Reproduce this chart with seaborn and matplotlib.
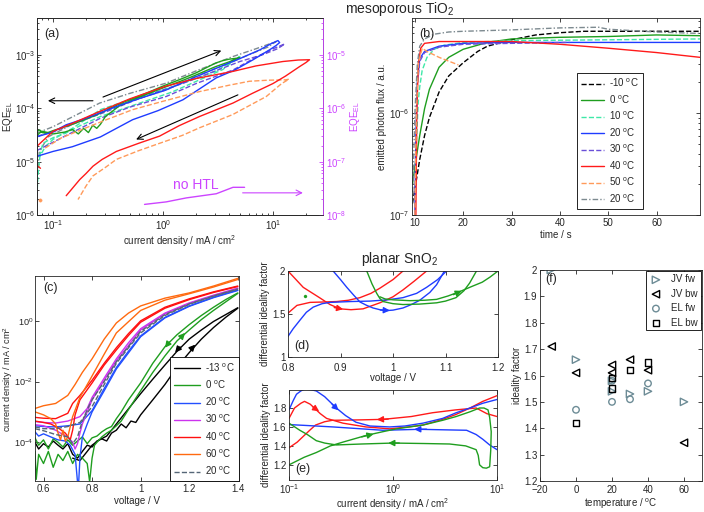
import matplotlib
matplotlib.use('Agg')
import matplotlib.pyplot as plt
import seaborn as sns
from matplotlib.ticker import FuncFormatter, NullLocator

# ---------------- data ----------------
TEMPS_TIO2 = ['-10 $^o$C', '0 $^o$C', '10 $^o$C', '20 $^o$C', '30 $^o$C', '40 $^o$C', '50 $^o$C', '20 $^o$C']
TEMPS_SNO2 = ['-13 $^o$C', '0 $^o$C', '20 $^o$C', '30 $^o$C', '40 $^o$C', '60 $^o$C', '20 $^o$C']

# (a) EQE_EL vs current density, loops (j, EQE)
A_GREEN = [(0.071, 3.2e-5), (0.073, 3.8e-5), (0.076, 3.9e-5), (0.08, 3.5e-5), (0.085, 3.4e-5), (0.09, 3.5e-5),
           (0.1, 3.8e-5), (0.12, 4.3e-5), (0.15, 5e-5), (0.19, 6e-5), (0.25, 7.5e-5), (0.3, 9e-5), (0.4, 1.2e-4),
           (0.5, 1.45e-4), (0.7, 1.9e-4), (1.0, 2.6e-4), (1.5, 3.6e-4), (2.0, 4.6e-4), (2.5, 5.8e-4), (3.0, 7e-4),
           (3.5, 7.8e-4), (4.0, 8.3e-4), (5.0, 8.8e-4), (4.5, 8.2e-4), (4.0, 7.4e-4), (3.0, 6e-4), (2.0, 4.2e-4),
           (1.5, 3.3e-4), (1.0, 2.4e-4), (0.7, 1.8e-4), (0.5, 1.35e-4), (0.4, 1.1e-4), (0.3, 7e-5), (0.27, 5e-5),
           (0.25, 4.2e-5), (0.23, 4.8e-5), (0.21, 3.5e-5), (0.19, 4.2e-5), (0.17, 3.3e-5), (0.15, 4e-5),
           (0.13, 3.6e-5), (0.11, 3.4e-5), (0.1, 3.3e-5), (0.09, 3.5e-5), (0.08, 3.7e-5), (0.075, 3.4e-5), (0.071, 3e-5)]
A_CYAN = [(0.072, 3e-6), (0.073, 5.3e-6), (0.076, 1.25e-5), (0.085, 1.9e-5), (0.1, 2.6e-5), (0.15, 4.2e-5),
          (0.27, 9.4e-5), (0.5, 1.45e-4), (1.07, 2.3e-4), (2.0, 3.6e-4), (3.05, 5e-4), (4.0, 7e-4), (5.0, 9.3e-4),
          (4.5, 8e-4), (3.5, 5.3e-4), (2.15, 3.4e-4), (1.2, 2e-4), (0.76, 1.45e-4), (0.45, 1e-4), (0.27, 7e-5),
          (0.18, 4.8e-5), (0.13, 3.4e-5), (0.1, 2.8e-5), (0.081, 2.2e-5), (0.075, 1.2e-5)]
A_BLUE = [(0.071, 2.9e-5), (0.1, 3.6e-5), (0.132, 4.9e-5), (0.2, 6.5e-5), (0.38, 1.08e-4), (0.6, 1.5e-4),
          (1.07, 2.2e-4), (2.0, 3.9e-4), (3.05, 5.6e-4), (5.0, 8.5e-4), (7.6, 1.24e-3), (9.5, 1.6e-3),
          (11.1, 1.85e-3), (11.5, 1.7e-3), (10.7, 1.5e-3), (9.3, 1.24e-3), (6.6, 8.1e-4), (4.5, 5.2e-4),
          (3.05, 3.7e-4), (1.52, 1.44e-4), (0.9, 9e-5), (0.53, 6.1e-5), (0.27, 2.9e-5), (0.15, 1.9e-5),
          (0.1, 1.55e-5), (0.071, 1.25e-5)]
A_PURPLE = [(0.071, 1.6e-5), (0.12, 2.8e-5), (0.27, 6.5e-5), (0.5, 1.05e-4), (1.07, 1.66e-4), (2.0, 2.9e-4),
            (4.33, 5.2e-4), (7.0, 9e-4), (10.0, 1.3e-3), (12.8, 1.6e-3), (11.0, 1.3e-3), (8.0, 1e-3), (5.0, 7.5e-4),
            (3.0, 5e-4), (1.5, 2.9e-4), (1.0, 2.2e-4), (0.6, 1.5e-4), (0.3, 8.5e-5), (0.15, 5e-5), (0.1, 3.6e-5),
            (0.072, 3e-5)]
A_RED = [(0.0716, 1.94e-5), (0.1, 3.7e-5), (0.15, 5.2e-5), (0.266, 8.7e-5), (0.5, 1.5e-4), (1.07, 2.6e-4),
         (2.0, 3.6e-4), (4.33, 4.9e-4), (7.0, 6.2e-4), (12.3, 7.5e-4), (17.0, 8e-4), (21.5, 8.1e-4), (20.0, 7.2e-4),
         (17.4, 6e-4), (13.0, 4e-4), (10.0, 2.9e-4), (6.5, 1.9e-4), (4.33, 1.25e-4), (2.15, 7e-5), (1.4, 4.7e-5),
         (0.93, 3e-5), (0.6, 2.2e-5), (0.377, 1.55e-5), (0.28, 1.1e-5), (0.231, 8.2e-6), (0.2, 6e-6),
         (0.175, 4.6e-6), (0.132, 2.3e-6)]
A_RED_TAIL = [(0.0716, 8.5e-6), (0.077, 7.5e-6)]
A_ORANGE = [(0.085, 1.8e-5), (0.12, 2.8e-5), (0.2, 4.3e-5), (0.3, 6e-5), (0.53, 9.4e-5), (1.0, 1.35e-4),
            (2.15, 2.05e-4), (4.0, 2.7e-4), (6.1, 3.2e-4), (9.0, 3.35e-4), (13.0, 3.4e-4), (14.0, 3.5e-4),
            (12.0, 2.9e-4), (8.7, 1.66e-4), (6.0, 1.1e-4), (4.3, 7.6e-5), (2.15, 4.3e-5), (1.5, 3.1e-5),
            (0.93, 2.2e-5), (0.6, 1.6e-5), (0.377, 1.1e-5), (0.3, 7.8e-6), (0.231, 5.4e-6), (0.2, 3.5e-6),
            (0.169, 1.95e-6)]
A_ORANGE_DOT = [(0.076, 1.9e-6)]
A_GRAY = [(0.071, 3.4e-5), (0.1, 4.5e-5), (0.266, 1.25e-4), (0.5, 1.9e-4), (1.07, 2.95e-4), (2.0, 5e-4),
          (4.33, 9.3e-4), (7.0, 1.3e-3), (10.7, 1.78e-3), (9.0, 1.4e-3), (6.0, 1e-3), (4.33, 7.5e-4), (2.0, 4e-4),
          (1.07, 2.2e-4), (0.5, 1.35e-4), (0.266, 8.7e-5), (0.15, 5e-5), (0.09, 2.9e-5), (0.075, 1.5e-5),
          (0.072, 6e-6)]
A_NOHTL = [(0.68, 1.58e-8), (1.07, 1.76e-8), (1.63, 2.09e-8), (3.05, 2.5e-8), (4.33, 3.3e-8), (5.52, 3.3e-8)]
A_ARROWS = [((0.231, 1.38e-4), (0.09, 1.38e-4)), ((0.285, 1.62e-4), (3.39, 1.2e-3)), ((4.8, 1.78e-4), (0.57, 2.6e-5))]
A_HTL_ARROW = ((5.3, 2.6e-8), (18.7, 2.6e-8))

# (b) emitted photon flux vs time
B_TIME = {
    'k': [9.5, 10, 11, 12, 13, 15, 17, 20, 23, 25, 30, 35, 40, 45, 50, 60, 69],
    'g': [9.5, 10, 11, 12, 13, 15, 17, 20, 25, 30, 40, 50, 60, 69],
    'c': [10, 10.3, 10.7, 11, 11.5, 12.5, 14, 16, 20, 30, 50, 69],
    'b': [10, 10.2, 10.5, 11, 12, 15, 20, 30, 50, 69],
    'p': [10, 10.2, 10.5, 11, 12, 15, 20, 30, 42],
    'r': [10.2, 10.4, 10.7, 11.2, 12, 15, 20, 30, 40, 50, 60, 69],
    'o': [10, 10.3, 10.7, 11.5, 12.5, 15, 19],
    'gr': [9.5, 10, 10.5, 11, 12, 14, 17, 20, 30, 40, 48, 50, 60, 69],
}
B_FLUX = {
    'k': [1.3e-7, 1.8e-7, 3.5e-7, 6e-7, 9e-7, 1.6e-6, 2.3e-6, 3.1e-6, 4e-6, 4.5e-6, 5.2e-6, 5.8e-6, 6.1e-6,
          6.3e-6, 6.3e-6, 6.3e-6, 6.3e-6],
    'g': [2e-7, 3e-7, 6e-7, 1.1e-6, 1.7e-6, 2.8e-6, 3.5e-6, 4.2e-6, 4.9e-6, 5.3e-6, 5.5e-6, 5.6e-6, 5.8e-6, 5.7e-6],
    'c': [1e-7, 5e-7, 1.3e-6, 1.8e-6, 2.6e-6, 3.5e-6, 4.2e-6, 4.6e-6, 4.9e-6, 5.1e-6, 5.2e-6, 5.3e-6],
    'b': [1e-7, 6e-7, 2e-6, 3.4e-6, 4e-6, 4.5e-6, 4.8e-6, 4.9e-6, 4.9e-6, 4.9e-6],
    'p': [1e-7, 5e-7, 1.8e-6, 3.2e-6, 3.9e-6, 4.4e-6, 4.7e-6, 4.8e-6, 4.9e-6],
    'r': [1e-7, 1e-6, 3e-6, 4.3e-6, 4.8e-6, 5e-6, 5e-6, 5e-6, 4.7e-6, 4.3e-6, 3.9e-6, 3.5e-6],
    'o': [1e-7, 1e-6, 3e-6, 4.3e-6, 4e-6, 3.5e-6, 2.95e-6],
    'gr': [1.3e-7, 1e-6, 3e-6, 4.5e-6, 5.3e-6, 5.9e-6, 6.2e-6, 6.3e-6, 6.5e-6, 6.8e-6, 6.9e-6, 6.6e-6, 6.2e-6, 6.0e-6],
}

# (c) JV curves, two sweeps per temperature (V, J)
C_BLACK_1 = [(0.72, 3e-5), (0.75, 2.5e-5), (0.78, 5e-5), (0.8, 8e-5), (0.83, 1.2e-4), (0.86, 1.6e-4), (0.88, 2.5e-4),
             (0.9, 4e-4), (0.93, 8e-4), (0.96, 1.6e-3), (1.0, 4e-3), (1.05, 1.2e-2), (1.1, 3.5e-2), (1.15, 0.1),
             (1.2, 0.25), (1.25, 0.5), (1.3, 0.95), (1.35, 1.6), (1.4, 2.7)]
C_BLACK_2 = [(0.565, 1e-4), (0.58, 6e-5), (0.6, 9e-5), (0.62, 7e-5), (0.64, 1.1e-4), (0.66, 8e-5), (0.68, 6e-5),
             (0.7, 9e-5), (0.72, 4e-5), (0.74, 3e-5), (0.76, 5e-5), (0.78, 8e-5), (0.8, 7e-5), (0.82, 1.1e-4),
             (0.84, 1.3e-4), (0.86, 1.1e-4), (0.88, 2e-4), (0.9, 2.5e-4), (0.92, 4e-4), (0.94, 3e-4), (0.96, 5e-4),
             (0.98, 4.5e-4), (1.0, 8e-4), (1.05, 2.5e-3), (1.1, 8e-3), (1.15, 3e-2), (1.2, 9e-2), (1.25, 0.25),
             (1.3, 0.6), (1.35, 1.3), (1.4, 2.6)]
C_GREEN_1 = [(0.565, 1.4e-4), (0.58, 8e-5), (0.6, 1.2e-4), (0.62, 6e-5), (0.64, 1.3e-4), (0.66, 1e-4), (0.68, 7e-5),
             (0.7, 1.2e-4), (0.72, 8e-5), (0.74, 1.1e-4), (0.76, 1.5e-4), (0.78, 9e-5), (0.8, 1.4e-4),
             (0.82, 1.6e-4), (0.84, 2.2e-4), (0.86, 2.8e-4), (0.88, 3.3e-4), (0.9, 6e-4), (0.92, 1e-3),
             (0.95, 2.5e-3), (1.0, 9e-3), (1.05, 4e-2), (1.1, 0.14), (1.15, 0.35), (1.2, 0.75), (1.25, 1.5),
             (1.3, 2.8), (1.35, 5.0), (1.4, 8.3)]
C_GREEN_2 = [(0.565, 5e-5), (0.57, 6e-6), (0.58, 4e-5), (0.6, 2e-5), (0.62, 5e-5), (0.64, 1.5e-5), (0.66, 4e-5),
             (0.68, 2.5e-5), (0.7, 5e-5), (0.72, 2e-5), (0.74, 4e-5), (0.76, 3e-5), (0.78, 2e-5), (0.79, 5e-6),
             (0.8, 3e-5), (0.81, 8e-5), (0.82, 1e-4), (0.84, 1.5e-4), (0.86, 2e-4), (0.88, 2.5e-4), (0.9, 3.5e-4),
             (0.92, 5e-4), (0.95, 1.2e-3), (1.0, 5e-3), (1.05, 2e-2), (1.1, 7e-2), (1.15, 0.22), (1.2, 0.5),
             (1.25, 1.1), (1.3, 2.2), (1.35, 4.2), (1.4, 8.0)]
C_BLUE_1 = [(0.565, 3.5e-4), (0.6, 3.3e-4), (0.65, 3.2e-4), (0.7, 3.5e-4), (0.75, 4e-4), (0.8, 1.1e-3),
            (0.85, 5.9e-3), (0.9, 2.9e-2), (0.95, 0.1), (1.0, 0.32), (1.1, 1.3), (1.2, 3.1), (1.3, 6.0), (1.4, 10.4)]
C_BLUE_2 = [(0.565, 2.2e-4), (0.58, 1.6e-4), (0.6, 1.9e-4), (0.63, 1.5e-4), (0.66, 1.2e-4), (0.69, 1.1e-4),
            (0.71, 8e-5), (0.73, 4e-5), (0.74, 5e-6), (0.745, 5e-6), (0.75, 3e-5), (0.76, 1.5e-4), (0.78, 4e-4),
            (0.8, 1e-3), (0.85, 5e-3), (0.9, 2.6e-2), (1.0, 0.3), (1.1, 1.25), (1.2, 3.0), (1.3, 5.8), (1.4, 10.0)]
C_MAG_1 = [(0.565, 4.8e-4), (0.6, 4.5e-4), (0.65, 4.3e-4), (0.7, 5e-4), (0.75, 7e-4), (0.78, 1.3e-3), (0.8, 3e-3),
           (0.85, 1.3e-2), (0.9, 5.6e-2), (0.95, 0.19), (1.0, 0.55), (1.1, 1.8), (1.2, 3.9), (1.3, 7.0), (1.4, 12.0)]
C_MAG_2 = [(0.565, 3.8e-4), (0.6, 3.5e-4), (0.65, 2.5e-4), (0.68, 1.8e-4), (0.7, 1.5e-4), (0.72, 1e-4),
           (0.73, 6e-5), (0.74, 9e-5), (0.75, 2e-4), (0.76, 4e-4), (0.78, 1e-3), (0.8, 2.5e-3), (0.85, 1.1e-2),
           (0.9, 4.8e-2), (1.0, 0.5), (1.1, 1.7), (1.2, 3.7), (1.3, 6.8), (1.4, 11.5)]
C_RED_1 = [(0.565, 6.6e-4), (0.6, 6.2e-4), (0.65, 6e-4), (0.7, 9e-4), (0.72, 1.9e-3), (0.75, 3.5e-3), (0.8, 1.1e-2),
           (0.85, 4e-2), (0.9, 0.13), (0.95, 0.38), (1.0, 1.0), (1.1, 2.8), (1.2, 5.3), (1.3, 9.0), (1.4, 14.0)]
C_RED_2 = [(0.565, 5e-4), (0.6, 4.5e-4), (0.63, 4e-4), (0.66, 3e-4), (0.69, 2e-4), (0.71, 1.2e-4), (0.72, 2.5e-4),
           (0.73, 8e-4), (0.75, 2.5e-3), (0.8, 9e-3), (0.85, 3.5e-2), (0.9, 0.11), (0.95, 0.33), (1.0, 0.9),
           (1.1, 2.6), (1.2, 5.0), (1.3, 8.6), (1.4, 13.5)]
C_ORANGE_1 = [(0.565, 1.3e-3), (0.6, 1.6e-3), (0.65, 1.9e-3), (0.7, 3.5e-3), (0.73, 8e-3), (0.76, 2e-2),
              (0.8, 5.6e-2), (0.85, 0.25), (0.9, 0.85), (0.95, 1.8), (1.0, 3.1), (1.1, 5.6), (1.2, 8.3),
              (1.3, 14.0), (1.4, 25.0)]
C_ORANGE_2 = [(0.565, 1e-3), (0.6, 8e-4), (0.63, 6e-4), (0.65, 4e-4), (0.66, 2e-4), (0.67, 1.2e-4), (0.68, 2.5e-4),
              (0.69, 1.1e-4), (0.7, 1.5e-4), (0.72, 7e-4), (0.75, 3e-3), (0.79, 1.1e-2), (0.85, 8e-2), (0.9, 0.4),
              (1.0, 2.2), (1.1, 4.8), (1.2, 7.8), (1.3, 13.0), (1.4, 23.0)]
C_GRAY_1 = [(0.565, 3.2e-4), (0.6, 2.8e-4), (0.65, 2.8e-4), (0.7, 3.3e-4), (0.75, 4.5e-4), (0.8, 1.5e-3),
            (0.85, 8e-3), (0.9, 4e-2), (0.95, 0.13), (1.0, 0.4), (1.1, 1.5), (1.2, 3.5), (1.3, 6.5), (1.4, 11.0)]
C_GRAY_2 = [(0.565, 2.8e-4), (0.6, 2.4e-4), (0.65, 1.8e-4), (0.7, 1.5e-4), (0.72, 9e-5), (0.74, 1.5e-4),
            (0.76, 5e-4), (0.78, 1.2e-3), (0.8, 2.5e-3), (0.85, 1e-2), (0.9, 4.5e-2), (1.0, 0.45), (1.1, 1.6),
            (1.2, 3.6), (1.3, 6.6), (1.4, 11.2)]
C_ARROWS = [((1.118, 0.2), (1.1, 0.13), 'g'), ((1.165, 0.28), (1.183, 0.4), 'g'),
            ((1.162, 0.14), (1.142, 0.09), 'k'), ((1.205, 0.11), (1.225, 0.165), 'k')]

# (d) differential ideality factor vs voltage
D_RED_1 = [(0.8, 2.0), (0.829, 1.81), (0.86, 1.69), (0.88, 1.61), (0.899, 1.56), (0.92, 1.55), (0.943, 1.56),
           (0.975, 1.63), (1.0, 1.7), (1.019, 1.78), (1.04, 1.88), (1.064, 2.0)]
D_RED_2 = [(0.8, 1.51), (0.817, 1.6), (0.842, 1.635), (0.87, 1.64), (0.893, 1.645), (0.915, 1.66), (0.937, 1.69),
           (0.958, 1.74), (0.975, 1.8), (1.0, 1.9), (1.019, 2.0)]
D_BLUE_1 = [(0.886, 2.0), (0.9, 1.9), (0.912, 1.81), (0.925, 1.72), (0.937, 1.64), (0.95, 1.6), (0.962, 1.57),
            (0.975, 1.55), (0.988, 1.54), (1.0, 1.545), (1.019, 1.57), (1.035, 1.61), (1.051, 1.66), (1.07, 1.75),
            (1.083, 1.84), (1.098, 2.0)]
D_BLUE_2 = [(0.8, 1.24), (0.81, 1.33), (0.823, 1.43), (0.835, 1.52), (0.848, 1.58), (0.865, 1.62), (0.88, 1.635),
            (0.92, 1.645), (0.956, 1.65), (0.99, 1.665), (1.019, 1.69), (1.045, 1.74), (1.064, 1.81), (1.085, 1.9),
            (1.102, 2.0)]
D_GREEN_1 = [(0.95, 2.0), (0.96, 1.85), (0.969, 1.74), (0.975, 1.68), (0.981, 1.645), (1.0, 1.62), (1.019, 1.61),
             (1.05, 1.615), (1.083, 1.63), (1.1, 1.65), (1.12, 1.69), (1.135, 1.77), (1.146, 1.86), (1.159, 2.0)]
D_GREEN_2 = [(0.975, 1.7), (0.985, 1.675), (1.0, 1.665), (1.032, 1.655), (1.06, 1.66), (1.083, 1.67), (1.105, 1.71),
             (1.127, 1.76), (1.15, 1.82), (1.17, 1.87), (1.185, 1.93), (1.2, 2.0)]
D_GREEN_DOT = [(0.832, 1.71)]
D_ARROWS = [((0.888, 1.575), (0.905, 1.556), 'r'), ((0.976, 1.546), (0.994, 1.541), 'b'),
            ((1.115, 1.725), (1.131, 1.77), 'g')]

# (e) differential ideality factor vs current density
E_BLUE_1 = [(0.1, 1.78), (0.11, 1.88), (0.118, 1.945), (0.13, 1.98), (0.141, 2.0), (0.16, 1.995), (0.183, 1.98),
            (0.22, 1.92), (0.285, 1.8), (0.35, 1.72), (0.44, 1.65), (0.6, 1.61), (0.93, 1.6), (1.3, 1.61),
            (1.94, 1.64), (3.0, 1.69), (4.05, 1.75), (5.5, 1.8), (7.3, 1.85), (10.0, 1.89)]
E_BLUE_2 = [(0.1, 1.625), (0.15, 1.615), (0.265, 1.6), (0.5, 1.58), (0.8, 1.565), (1.8, 1.575), (3.0, 1.57),
            (5.1, 1.565), (6.3, 1.52), (7.3, 1.47), (8.5, 1.41), (10.0, 1.36)]
E_RED_1 = [(0.1, 1.69), (0.113, 1.8), (0.13, 1.85), (0.141, 1.87), (0.16, 1.84), (0.183, 1.78), (0.2, 1.74),
           (0.23, 1.69), (0.33, 1.64), (0.55, 1.6), (0.93, 1.58), (1.4, 1.6), (1.94, 1.62), (3.0, 1.68),
           (4.0, 1.73), (5.5, 1.8), (7.3, 1.87), (10.0, 1.93)]
E_RED_2 = [(0.1, 1.38), (0.12, 1.44), (0.14, 1.51), (0.16, 1.57), (0.18, 1.62), (0.22, 1.655), (0.26, 1.67),
           (0.5, 1.675), (0.8, 1.68), (1.5, 1.71), (2.4, 1.75), (4.0, 1.78), (6.3, 1.8), (8.0, 1.74), (10.0, 1.71)]
E_GREEN = [(0.1, 1.64), (0.127, 1.565), (0.15, 1.52), (0.183, 1.455), (0.22, 1.43), (0.285, 1.41), (0.5, 1.42),
           (1.0, 1.43), (2.0, 1.425), (3.5, 1.42), (5.0, 1.4), (6.3, 1.36), (6.6, 1.3), (6.8, 1.2), (7.3, 1.17),
           (7.9, 1.165), (8.5, 1.18), (8.7, 1.35), (8.8, 1.55), (8.5, 1.7), (8.2, 1.78), (7.5, 1.8), (6.8, 1.8),
           (5.5, 1.76), (4.05, 1.71), (3.0, 1.67), (1.94, 1.62), (1.08, 1.58), (0.8, 1.55), (0.55, 1.51),
           (0.33, 1.44), (0.25, 1.4), (0.183, 1.33), (0.14, 1.28), (0.1, 1.2)]
E_ARROWS = [((0.26, 1.84), (0.3, 1.775), 'b'), ((0.17, 1.81), (0.195, 1.765), 'r'),
            ((0.9, 1.683), (0.7, 1.678), 'r'), ((2.1, 1.576), (1.6, 1.575), 'b'),
            ((1.15, 1.43), (0.9, 1.43), 'g'), ((0.5, 1.495), (0.65, 1.525), 'g')]

# (f) ideality factor vs temperature
F_T_JVFW = [-14, 0, 20, 20, 30, 40, 60]
F_JVFW = [2.0, 1.66, 1.58, 1.54, 1.53, 1.54, 1.50]
F_T_JVBW = [-13.5, 0, 20, 20, 30, 40, 60]
F_JVBW = [1.71, 1.61, 1.64, 1.61, 1.66, 1.62, 1.345]
F_T_ELFW = [0, 20, 20, 30, 40]
F_ELFW = [1.47, 1.50, 1.58, 1.51, 1.57]
F_T_ELBW = [0, 20, 20, 30, 40]
F_ELBW = [1.42, 1.55, 1.59, 1.62, 1.65]

# ---------------- style ----------------
sns.set_style('ticks')
plt.rcParams['font.family'] = ['Liberation Sans', 'DejaVu Sans']
plt.rcParams['mathtext.fontset'] = 'custom'
plt.rcParams['mathtext.rm'] = 'Liberation Sans'
plt.rcParams['mathtext.it'] = 'Liberation Sans:italic'
plt.rcParams['mathtext.default'] = 'regular'
plt.rcParams['font.size'] = 7
plt.rcParams['axes.linewidth'] = 0.6
plt.rcParams['axes.labelpad'] = 1.5

FS = 7
COL = {'k': 'black', 'g': '#1f9e1f', 'c': '#3ee8a8', 'b': '#1f3cff', 'p': '#6a4fd8', 'r': '#ff1a1a',
       'o': '#ff9a5a', 'gr': '#7d8a90'}
COL_C = {'k': 'black', 'g': '#1f9e1f', 'b': '#2350ff', 'm': '#cc33ee', 'r': '#ff1010', 'o': '#ff6a10',
         'gr': '#556677'}
MAGENTA = '#cc44ff'
FGRAY = '#6d8c96'


def line(ax, pts, color, ls='-', lw=1.0, label=None):
    xs = [p[0] for p in pts]
    ys = [p[1] for p in pts]
    sns.lineplot(x=xs, y=ys, ax=ax, color=color, linestyle=ls, lw=lw, sort=False,
                 estimator=None, errorbar=None, label=label)


def head(ax, p0, p1, color):
    ax.annotate('', xy=p1, xytext=p0,
                arrowprops=dict(arrowstyle='-|>', color=color, lw=1.0, mutation_scale=9,
                                shrinkA=0, shrinkB=0))


def style(ax):
    ax.tick_params(which='both', direction='in', top=True, right=True, labelsize=FS, width=0.6, pad=2)
    ax.tick_params(which='major', length=3)
    ax.tick_params(which='minor', length=1.6)


def rect(l, t, r, b):
    return [l / 704, 1 - b / 512, (r - l) / 704, (b - t) / 512]


def legend(ax, **kw):
    h, l = ax.get_legend_handles_labels()
    lg = ax.legend(h, l, fontsize=FS, frameon=True, fancybox=False, edgecolor='black',
                   framealpha=1, **kw)
    lg.get_frame().set_linewidth(0.6)


gfmt = FuncFormatter(lambda v, p: '%g' % v)

fig = plt.figure(figsize=(7.04, 5.12), dpi=100)

# ---------------- (a) ----------------
axA = fig.add_axes(rect(37, 18, 323, 215))
axA.set_xscale('log')
axA.set_yscale('log')
dashdot = (0, (4, 1.5, 1, 1.5))
line(axA, A_GRAY, COL['gr'], dashdot)
line(axA, A_CYAN, COL['c'], '--')
line(axA, A_PURPLE, COL['p'], '--')
line(axA, A_GREEN, COL['g'])
line(axA, A_BLUE, COL['b'])
line(axA, A_ORANGE, COL['o'], '--')
line(axA, A_RED, COL['r'])
line(axA, A_RED_TAIL, COL['r'])
sns.scatterplot(x=[p[0] for p in A_ORANGE_DOT], y=[p[1] for p in A_ORANGE_DOT], ax=axA,
                color=COL['o'], s=6, edgecolor=COL['o'])
for p0, p1 in A_ARROWS:
    axA.annotate('', xy=p1, xytext=p0,
                 arrowprops=dict(arrowstyle='->', color='black', lw=0.8, mutation_scale=10,
                                 shrinkA=0, shrinkB=0))
axA.set_xlim(0.0716, 28.5)
axA.set_ylim(1e-6, 4.9e-3)
style(axA)
axA.tick_params(which='both', right=False)
axA.tick_params(axis='y', pad=1)
axA.set_xlabel('current density / mA / cm$^2$', fontsize=FS)
axA.set_ylabel('EQE$_{EL}$', fontsize=FS)
axA.yaxis.set_label_coords(-0.078, 0.5)
axA.text(0.025, 0.95, '(a)', transform=axA.transAxes, fontsize=9, va='top')

axA2 = axA.twinx()
axA2.set_yscale('log')
line(axA2, A_NOHTL, MAGENTA)
axA2.annotate('', xy=A_HTL_ARROW[1], xytext=A_HTL_ARROW[0],
              arrowprops=dict(arrowstyle='->', color=MAGENTA, lw=0.8, mutation_scale=10,
                              shrinkA=0, shrinkB=0))
axA2.text(1.23, 3.7e-8, 'no HTL', color=MAGENTA, fontsize=10, va='center')
axA2.set_ylim(1e-8, 4.9e-5)
axA2.set_xlim(0.0716, 28.5)
axA2.tick_params(which='both', direction='in', right=True, left=False, colors=MAGENTA,
                 labelsize=FS, width=0.6, pad=2)
axA2.tick_params(which='major', length=3)
axA2.tick_params(which='minor', length=1.6)
axA2.spines['right'].set_color(MAGENTA)
axA2.set_ylabel('EQE$_{EL}$', color=MAGENTA, fontsize=FS)

# ---------------- (b) ----------------
axB = fig.add_axes(rect(412, 18, 700, 215))
axB.set_yscale('log')
b_styles = [('k', '--'), ('g', '-'), ('c', '--'), ('b', '-'), ('p', '--'), ('r', '-'), ('o', '--'), ('gr', dashdot)]
for (key, ls), lab in zip(b_styles, TEMPS_TIO2):
    pts = list(zip(B_TIME[key], B_FLUX[key]))
    line(axB, pts, COL[key], ls, label=lab)
axB.set_xlim(9.4, 69)
axB.set_ylim(1e-7, 8.5e-6)
axB.set_xticks([10, 20, 30, 40, 50, 60])
axB.xaxis.set_minor_locator(NullLocator())
style(axB)
axB.set_xlabel('time / s', fontsize=FS)
axB.set_ylabel('emitted photon flux / a.u.', fontsize=FS)
axB.text(0.025, 0.95, '(b)', transform=axB.transAxes, fontsize=9, va='top')
legend(axB, loc='upper left', bbox_to_anchor=(0.556, 0.745), handlelength=2.4, labelspacing=0.42,
       borderpad=0.4, handletextpad=0.5)

# ---------------- (c) ----------------
axC = fig.add_axes(rect(35, 276, 239, 481))
axC.set_yscale('log')
c_sets = [('k', '-', C_BLACK_1, C_BLACK_2), ('g', '-', C_GREEN_1, C_GREEN_2), ('b', '-', C_BLUE_1, C_BLUE_2),
          ('m', '-', C_MAG_1, C_MAG_2), ('r', '-', C_RED_1, C_RED_2), ('o', '-', C_ORANGE_1, C_ORANGE_2),
          ('gr', '--', C_GRAY_1, C_GRAY_2)]
for (key, ls, s1, s2), lab in zip(c_sets, TEMPS_SNO2):
    line(axC, s1, COL_C[key], ls, label=lab)
    line(axC, s2, COL_C[key], ls)
for p0, p1, key in C_ARROWS:
    head(axC, p0, p1, COL_C[key])
axC.set_xlim(0.565, 1.405)
axC.set_ylim(5.3e-6, 30)
axC.set_yticks([1e-4, 1e-2, 1e0])
axC.yaxis.set_minor_locator(NullLocator())
axC.set_xticks([0.6, 0.8, 1.0, 1.2, 1.4])
axC.xaxis.set_major_formatter(gfmt)
style(axC)
axC.tick_params(axis='y', pad=1, labelsize=6.6)
axC.set_xlabel('voltage / V', fontsize=FS)
axC.set_ylabel('current density / mA / cm$^2$', fontsize=6.6)
axC.yaxis.set_label_coords(-0.097, 0.5)
axC.text(0.04, 0.97, '(c)', transform=axC.transAxes, fontsize=9, va='top')
legend(axC, loc='lower right', borderaxespad=0, handlelength=2.6, labelspacing=0.5,
       borderpad=0.4, handletextpad=0.6)

# ---------------- (d) ----------------
axD = fig.add_axes(rect(288, 271, 498, 357))
line(axD, D_RED_1, COL['r'])
line(axD, D_RED_2, COL['r'])
line(axD, D_BLUE_1, COL['b'])
line(axD, D_BLUE_2, COL['b'])
line(axD, D_GREEN_1, COL['g'])
line(axD, D_GREEN_2, COL['g'])
sns.scatterplot(x=[p[0] for p in D_GREEN_DOT], y=[p[1] for p in D_GREEN_DOT], ax=axD,
                color=COL['g'], s=5, edgecolor=COL['g'])
for p0, p1, key in D_ARROWS:
    head(axD, p0, p1, COL[key])
axD.set_xlim(0.8, 1.2)
axD.set_ylim(1, 2)
axD.set_xticks([0.8, 0.9, 1.0, 1.1, 1.2])
axD.set_yticks([1, 1.5, 2])
axD.xaxis.set_major_formatter(gfmt)
axD.yaxis.set_major_formatter(gfmt)
style(axD)
axD.tick_params(axis='x', pad=4)
axD.set_xlabel('voltage / V', fontsize=FS, labelpad=0.5)
axD.set_ylabel('differential ideality factor', fontsize=FS)
axD.text(0.03, 0.06, '(d)', transform=axD.transAxes, fontsize=9, va='bottom')

# ---------------- (e) ----------------
axE = fig.add_axes(rect(289, 390, 497, 480))
axE.set_xscale('log')
line(axE, E_RED_1, COL['r'])
line(axE, E_RED_2, COL['r'])
line(axE, E_BLUE_1, COL['b'])
line(axE, E_BLUE_2, COL['b'])
line(axE, E_GREEN, COL['g'])
for p0, p1, key in E_ARROWS:
    head(axE, p0, p1, COL[key])
axE.set_xlim(0.1, 10)
axE.set_ylim(1.04, 1.99)
axE.set_yticks([1.2, 1.4, 1.6, 1.8])
axE.yaxis.set_major_formatter(gfmt)
axE.xaxis.set_minor_locator(NullLocator())
style(axE)
axE.tick_params(axis='x', pad=1.5)
axE.set_xlabel('current density / mA / cm$^2$', fontsize=FS, labelpad=0)
axE.set_ylabel('differential ideality factor', fontsize=FS)
axE.text(0.03, 0.06, '(e)', transform=axE.transAxes, fontsize=9, va='bottom')

# ---------------- (f) ----------------
axF = fig.add_axes(rect(540, 270, 702, 481))
sns.scatterplot(x=F_T_JVFW, y=F_JVFW, ax=axF, marker='>', s=28, color=FGRAY, facecolor='none',
                edgecolor=FGRAY, linewidth=1.0, label='JV fw')
sns.scatterplot(x=F_T_JVBW, y=F_JVBW, ax=axF, marker='<', s=28, color='black', facecolor='none',
                edgecolor='black', linewidth=1.0, label='JV bw')
sns.scatterplot(x=F_T_ELFW, y=F_ELFW, ax=axF, marker='o', s=22, color=FGRAY, facecolor='none',
                edgecolor=FGRAY, linewidth=1.0, label='EL fw')
sns.scatterplot(x=F_T_ELBW, y=F_ELBW, ax=axF, marker='s', s=22, color='black', facecolor='none',
                edgecolor='black', linewidth=1.0, label='EL bw')
axF.set_xlim(-20, 70)
axF.set_ylim(1.2, 2.0)
axF.set_xticks([-20, 0, 20, 40, 60])
axF.set_yticks([1.2, 1.3, 1.4, 1.5, 1.6, 1.7, 1.8, 1.9, 2.0])
axF.yaxis.set_major_formatter(gfmt)
style(axF)
axF.tick_params(axis='x', pad=3)
axF.set_xlabel('temperature / $^o$C', fontsize=FS, labelpad=1)
axF.set_ylabel('ideality factor', fontsize=FS)
axF.text(0.03, 0.985, '(f)', transform=axF.transAxes, fontsize=9, va='top')
legend(axF, loc='upper right', borderaxespad=0.15, handlelength=1.5, labelspacing=0.45, borderpad=0.3,
       handletextpad=0.8)

# ---------------- titles ----------------
fig.text(400 / 704, 1 - 9 / 512, 'mesoporous TiO$_2$', ha='center', va='center', fontsize=10)
fig.text(400 / 704, 1 - 259 / 512, 'planar SnO$_2$', ha='center', va='center', fontsize=10)

fig.savefig('out.png', dpi=100)
